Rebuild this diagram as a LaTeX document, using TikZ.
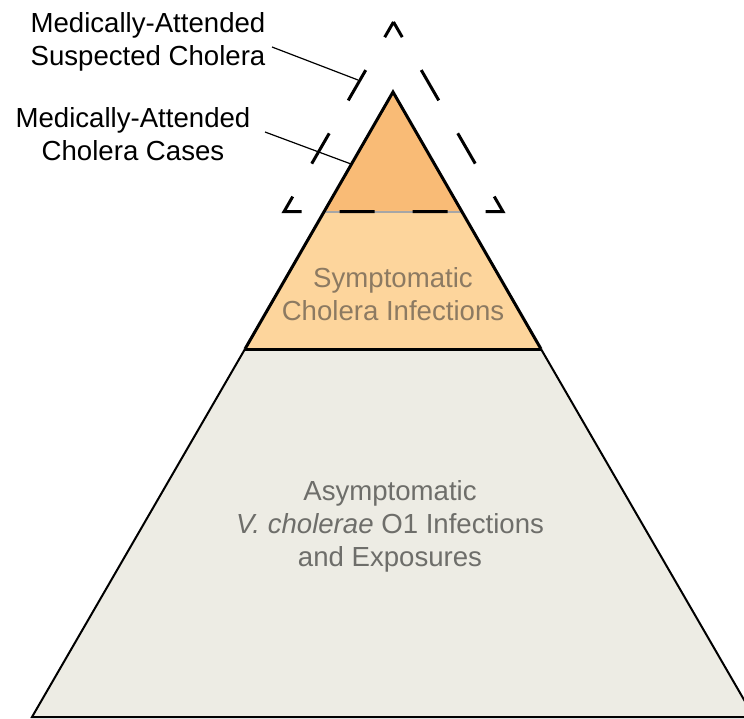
\documentclass[tikz,border=0pt]{standalone}
\usepackage{fontspec}
\setmainfont{Liberation Sans}
\definecolor{basefill}{HTML}{EDECE4}
\definecolor{bandfill}{HTML}{FDD59C}
\definecolor{topfill}{HTML}{F9BB76}
\definecolor{midtext}{HTML}{8C7A62}
\definecolor{lowtext}{HTML}{6E6E6A}
\definecolor{baseline}{HTML}{3A3A3A}
\tikzset{
  lbl/.style={align=center, font=\fontsize{27.6}{33}\selectfont, inner sep=0pt},
  leader/.style={draw=black, line width=1.2pt},
  outline/.style={draw=black, line width=3pt, line join=miter},
  dashtri/.style={draw=black, line width=3pt, line join=miter, dash pattern=on 35pt off 38pt, dash phase=17.5pt}
}
\begin{document}
\begin{tikzpicture}[x=1pt,y=-1pt]
\useasboundingbox (0,0) rectangle (744,719);
% coordinates
\coordinate (apex) at (393,92);
\coordinate (bl) at (245,349);
\coordinate (br) at (541,349);
\coordinate (tl) at (325,212);
\coordinate (tr) at (462,212);
\coordinate (gl) at (32,717);
\coordinate (gr) at (754,717);
% base trapezoid
\fill[basefill] (bl) -- (br) -- (gr) -- (gl) -- cycle;
\draw[baseline, line width=2pt] (br) -- (gr) -- (gl) -- (bl);
% band
\fill[bandfill] (tl) -- (tr) -- (br) -- (bl) -- cycle;
% top triangle
\fill[topfill] (apex) -- (tr) -- (tl) -- cycle;
\draw[gray!70, line width=2pt] (tl) -- (tr);
\draw[outline] (bl) -- (apex) -- (br);
\draw[baseline, line width=3pt] (bl) -- (br);
% dashed outer triangle
\coordinate (da) at (393.5,22);
\coordinate (dr) at (503,211.7);
\coordinate (dl) at (284,211.7);
\draw[dashtri] (da) -- (dr) -- (dl) -- cycle;
% texts
\node[lbl, text=midtext] (sym) at (393,294) {Symptomatic\\Cholera Infections};
\node[lbl, text=lowtext] (asym) at (390,526) {Asymptomatic\\\textit{V. cholerae} O1 Infections\\and Exposures};
\node[lbl] (susp) at (148,42) {Medically-Attended\\Suspected Cholera};
\node[lbl] (cases) at (133,134) {Medically-Attended\\Cholera Cases};
% leaders
\coordinate (s1) at (272,47);
\coordinate (e1) at (358,80);
\coordinate (s2) at (265,132);
\coordinate (e2) at (351,164);
\draw[leader] (s1) -- (e1);
\draw[leader] (s2) -- (e2);
\end{tikzpicture}
\end{document}
